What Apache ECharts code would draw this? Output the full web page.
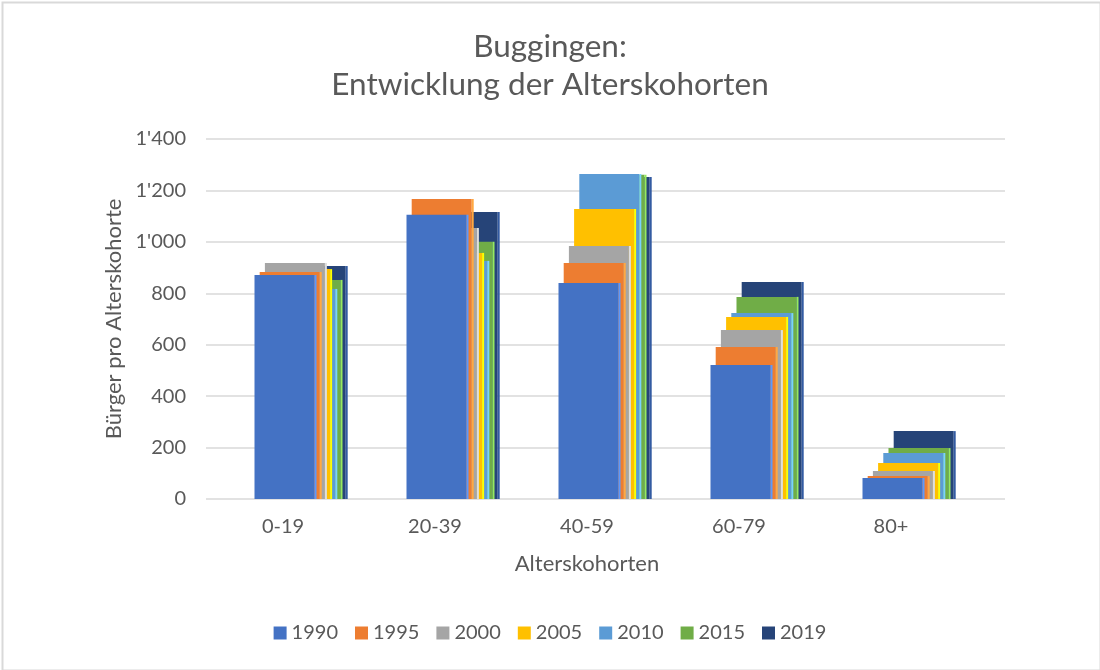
<!DOCTYPE html>
<html>
<head>
<meta charset="utf-8">
<script src="https://cdn.jsdelivr.net/npm/echarts@6/dist/echarts.min.js"></script>
<style>
html,body{margin:0;padding:0;background:#fff;}
#c{width:1100px;height:670px;}
</style>
</head>
<body>
<div id="c"></div>
<script>
const categories = ['0-19', '20-39', '40-59', '60-79', '80+'];
const years = ['1990', '1995', '2000', '2005', '2010', '2015', '2019'];
const colors = ['#4472C4', '#ED7D31', '#A5A5A5', '#FFC000', '#5B9BD5', '#70AD47', '#264478'];
const v1990 = [871, 1105, 840, 521, 82];
const v1995 = [883, 1167, 918, 591, 89];
const v2000 = [918, 1054, 984, 657, 109];
const v2005 = [894, 957, 1128, 708, 140];
const v2010 = [817, 926, 1264, 723, 179];
const v2015 = [852, 1000, 1261, 786, 198];
const v2019 = [906, 1116, 1252, 844, 264];
const seriesValues = [v1990, v1995, v2000, v2005, v2010, v2015, v2019];
const yTicks = [0, 200, 400, 600, 800, 1000, 1200, 1400];

const FONT = 'Lato';
const TXT = '#595959';

function fmt(v) {
  const s = String(v);
  return s.length > 3 ? s.slice(0, s.length - 3) + "'" + s.slice(s.length - 3) : s;
}

function makeRender(k, color) {
  const side = echarts.color.lift(color, -0.35);
  return function (params, api) {
    const ci = api.value(0);
    const val = api.value(1);
    const base = api.coord([ci, 0]);
    const top = api.coord([ci, val]);
    const band = api.size([1, 0])[0];
    const w = band * 0.408;
    const x0 = base[0] - band * 0.1875 + k * band * 0.0342;
    const h = base[1] - top[1];
    return {
      type: 'group',
      children: [
        { type: 'rect', shape: { x: x0, y: top[1], width: w - 2, height: h }, style: { fill: color } },
        { type: 'rect', shape: { x: x0 + w - 2, y: top[1], width: 2, height: h }, style: { fill: side } }
      ]
    };
  };
}

const series = years.map((y, k) => ({
  name: y,
  type: 'custom',
  xAxisIndex: 0,
  yAxisIndex: 0,
  z: 20 - k,
  itemStyle: { color: colors[k] },
  renderItem: makeRender(k, colors[k]),
  data: seriesValues[k].map((v, i) => [i, v])
}));

const chart = echarts.init(document.getElementById('c'), null, { renderer: 'canvas' });
chart.setOption({
  backgroundColor: '#fff',
  animation: false,
  title: {
    text: 'Buggingen:\nEntwicklung der Alterskohorten',
    left: 'center',
    top: 23,
    textStyle: { fontFamily: FONT, fontSize: 31.5, fontWeight: 'normal', color: TXT, lineHeight: 38, align: 'center' }
  },
  legend: {
    data: years,
    bottom: 22,
    left: 'center',
    icon: 'rect',
    itemWidth: 13,
    itemHeight: 13,
    itemGap: 17,
    textStyle: { fontFamily: FONT, fontSize: 20, color: TXT }
  },
  grid: [
    { left: 207, right: 133, top: 139, bottom: 171 },
    { left: 206, right: 95, top: 139, bottom: 171 }
  ],
  xAxis: [
    {
      gridIndex: 0, type: 'category', data: categories,
      axisLine: { show: false }, axisTick: { show: false },
      axisLabel: { fontFamily: FONT, fontSize: 20, color: TXT, margin: 18 },
      name: 'Alterskohorten', nameLocation: 'middle', nameGap: 54,
      nameTextStyle: { fontFamily: FONT, fontSize: 22, color: TXT }
    },
    { gridIndex: 1, type: 'value', show: false }
  ],
  yAxis: [
    {
      gridIndex: 0, type: 'value', min: 0, max: 1400, interval: 200,
      splitLine: { show: false }, axisLine: { show: false }, axisTick: { show: false },
      axisLabel: { fontFamily: FONT, fontSize: 20, color: TXT, margin: 21, formatter: fmt },
      name: 'Bürger pro Alterskohorte', nameLocation: 'middle', nameGap: 80,
      nameTextStyle: { fontFamily: FONT, fontSize: 22, color: TXT }
    },
    {
      gridIndex: 1, type: 'value', min: 0, max: 1400, interval: 200,
      axisLabel: { show: false }, axisLine: { show: false }, axisTick: { show: false },
      splitLine: { show: true, lineStyle: { color: '#D9D9D9', width: 1.5 } }
    }
  ],
  graphic: [{
    type: 'rect', left: 0, top: 0, z: 100, silent: true,
    shape: { x: 1, y: 1, width: 1098, height: 668 },
    style: { fill: 'none', stroke: '#D9D9D9', lineWidth: 2 }
  }],
  series: series
});
</script>
</body>
</html>
